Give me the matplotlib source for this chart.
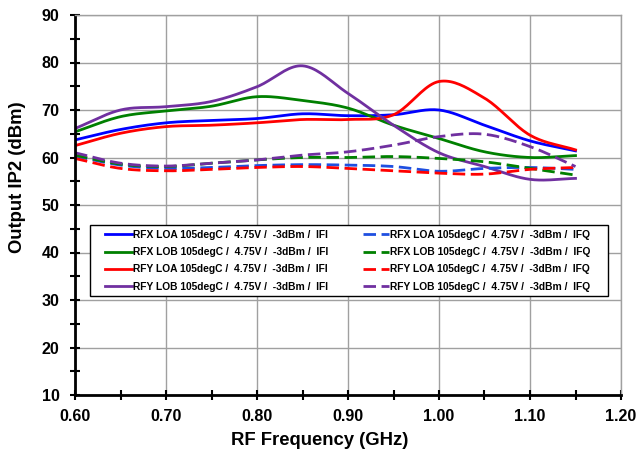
import numpy as np
import matplotlib
matplotlib.use("Agg")
import matplotlib.pyplot as plt
from matplotlib.patches import Rectangle

plt.rcParams['font.family'] = ['Liberation Sans', 'DejaVu Sans']
plt.rcParams['font.weight'] = 'bold'

freq = [0.60, 0.65, 0.70, 0.75, 0.80, 0.85, 0.90, 0.95, 1.00, 1.05, 1.10, 1.15]

rfx_loa_ifi = [63.7, 65.9, 67.3, 67.8, 68.2, 69.2, 68.8, 69.0, 70.0, 66.8, 63.5, 61.4]
rfx_lob_ifi = [65.4, 68.6, 69.8, 70.8, 72.8, 72.0, 70.4, 66.8, 64.0, 61.2, 60.0, 60.4]
rfy_loa_ifi = [62.5, 65.1, 66.5, 66.8, 67.3, 68.0, 68.0, 69.0, 76.0, 72.5, 64.7, 61.6]
rfy_lob_ifi = [66.1, 70.0, 70.7, 71.8, 74.9, 79.3, 73.5, 66.8, 61.0, 58.1, 55.4, 55.6]

rfx_loa_ifq = [60.3, 58.4, 57.7, 57.9, 58.3, 58.5, 58.4, 58.1, 57.1, 57.7, 57.9, 57.5]
rfx_lob_ifq = [60.5, 58.6, 58.1, 58.8, 59.5, 60.0, 60.0, 60.2, 59.8, 59.1, 57.7, 56.3]
rfy_loa_ifq = [59.8, 57.7, 57.2, 57.5, 57.9, 58.1, 57.7, 57.2, 56.7, 56.5, 57.5, 57.9]
rfy_lob_ifq = [61.0, 58.8, 58.2, 58.8, 59.5, 60.5, 61.2, 62.6, 64.4, 64.9, 62.3, 58.1]

names = ["RFX LOA", "RFX LOB", "RFY LOA", "RFY LOB"]
colors = ["#0000FF", "#008000", "#FF0000", "#7030A0"]
dash_colors = ["#1F4FE0", "#008000", "#FF0000", "#7030A0"]
cond = " 105degC /  4.75V /  -3dBm /  "


def smooth(x, y, n=20):
    # Catmull-Rom curve through the points, like Excel's smoothed lines
    x = np.asarray(x, float)
    y = np.asarray(y, float)
    px = np.concatenate([[2 * x[0] - x[1]], x, [2 * x[-1] - x[-2]]])
    py = np.concatenate([[2 * y[0] - y[1]], y, [2 * y[-1] - y[-2]]])
    xs, ys = [], []
    t = np.linspace(0, 1, n, endpoint=False)
    for i in range(1, len(px) - 2):
        for p, out in ((px, xs), (py, ys)):
            p0, p1, p2, p3 = p[i - 1], p[i], p[i + 1], p[i + 2]
            out.extend(0.5 * (2 * p1 + (-p0 + p2) * t
                              + (2 * p0 - 5 * p1 + 4 * p2 - p3) * t ** 2
                              + (-p0 + 3 * p1 - 3 * p2 + p3) * t ** 3))
    xs.append(x[-1])
    ys.append(y[-1])
    return xs, ys


fig = plt.figure(figsize=(6.38, 4.53), dpi=100)
ax = fig.add_axes([75 / 638, 58 / 453, 546 / 638, 380 / 453])

ifi = [rfx_loa_ifi, rfx_lob_ifi, rfy_loa_ifi, rfy_lob_ifi]
ifq = [rfx_loa_ifq, rfx_lob_ifq, rfy_loa_ifq, rfy_lob_ifq]

handles = []
for name, c, vals in zip(names, colors, ifi):
    sx, sy = smooth(freq, vals)
    h, = ax.plot(sx, sy, color=c, lw=2.0, label=name + cond + "IFI")
    handles.append(h)
for name, c, vals in zip(names, dash_colors, ifq):
    sx, sy = smooth(freq, vals)
    h, = ax.plot(sx, sy, color=c, lw=2.0, ls=(0, (4.5, 2)), label=name + cond + "IFQ")
    handles.append(h)

ax.set_xlim(0.6, 1.2)
ax.set_ylim(10, 90)
ax.set_xticks(np.arange(0.6, 1.21, 0.1))
ax.set_xticks(np.arange(0.65, 1.2, 0.1), minor=True)
ax.set_yticks(np.arange(10, 91, 10))
ax.set_yticks(np.arange(15, 90, 10), minor=True)
ax.set_xticklabels([f"{v:.2f}" for v in np.arange(0.6, 1.21, 0.1)])
ax.tick_params(axis='both', which='both', direction='inout', width=1.5,
               length=7.2, labelsize=11.6)
ax.tick_params(axis='x', which='major', pad=6.5)
ax.tick_params(axis='y', which='major', pad=7.5)
ax.grid(True, which='major', color='#A0A0A0', lw=1)
for side in ['top', 'right']:
    ax.spines[side].set_color('#A0A0A0')
    ax.spines[side].set_linewidth(1)
for side in ['left', 'bottom']:
    ax.spines[side].set_linewidth(2)
ax.set_axisbelow(True)

ax.set_xlabel("RF Frequency (GHz)", fontsize=13.3, fontweight='bold')
ax.set_ylabel("Output IP2 (dBm)", fontsize=13.3, fontweight='bold')
ax.xaxis.set_label_coords(0.448, -0.121)
ax.yaxis.set_label_coords(-0.106, 0.574)
ax.xaxis.label.set_va('center')
ax.yaxis.label.set_va('center')

# legend frame drawn separately: wide side margins, tight top and bottom
ax.add_patch(Rectangle((15 / 546, 0.261), 518 / 546, 0.186, transform=ax.transAxes,
                       facecolor='white', edgecolor='black', lw=1, zorder=3))
leg = ax.legend(handles=handles, ncol=2, loc='upper left',
                bbox_to_anchor=(30 / 546, 0.434),
                fontsize=7.4, frameon=False, handlelength=2.6,
                handletextpad=0.1, columnspacing=3.37, labelspacing=0.70,
                borderaxespad=0, borderpad=0)
leg.set_zorder(4)

fig.savefig("out.png", dpi=100)
